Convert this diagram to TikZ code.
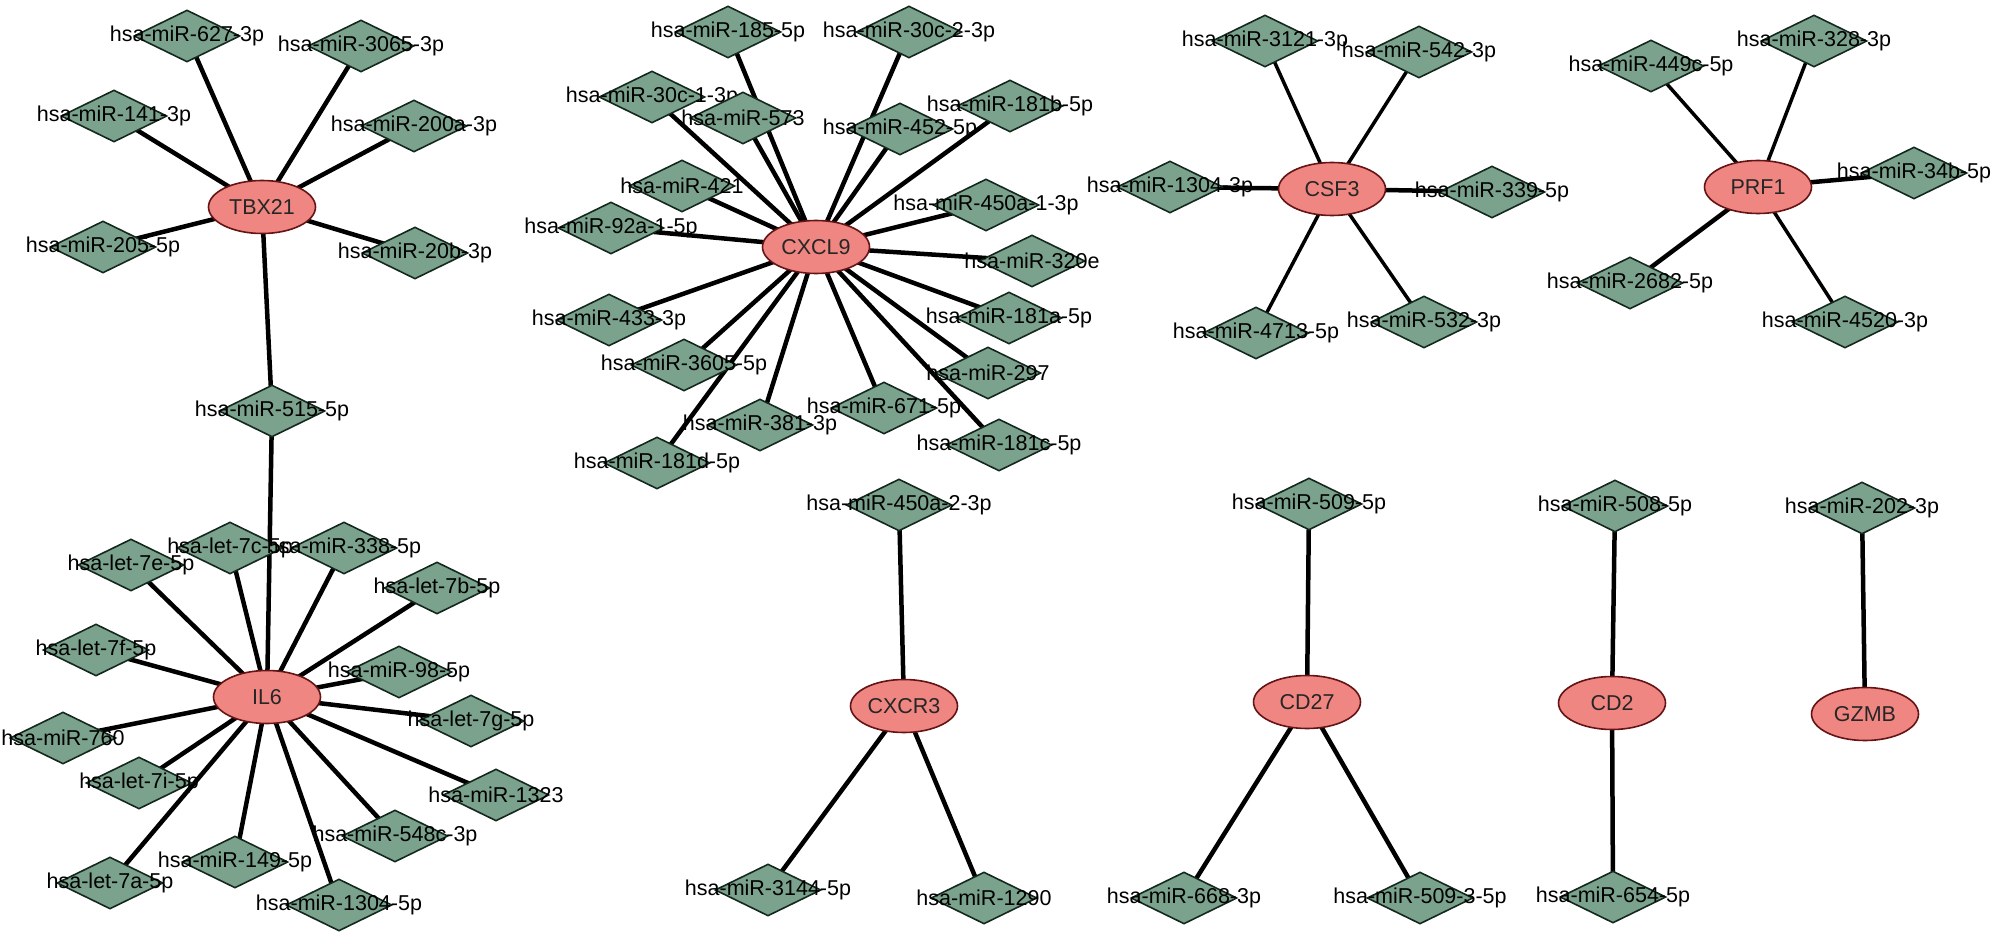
\documentclass[tikz,border=0pt]{standalone}
\usepackage{fontspec}
\setmainfont{Liberation Sans}
\usetikzlibrary{shapes.geometric,backgrounds}
\definecolor{genefill}{RGB}{240,134,130}
\definecolor{genedraw}{RGB}{100,20,20}
\definecolor{mirfill}{RGB}{122,162,140}
\definecolor{mirdraw}{RGB}{20,40,30}
\tikzset{
  gene/.style={ellipse, draw=genedraw, fill=genefill, line width=1.6pt,
    minimum width=107pt, minimum height=53pt, inner sep=0pt,
    font=\fontsize{21.5}{24}\selectfont, text=black!85},
  mir/.style={diamond, draw=mirdraw, fill=mirfill, line width=1.6pt,
    minimum width=106pt, minimum height=52pt, inner sep=0pt},
  lab/.style={font=\fontsize{21.5}{24}\selectfont, text=black, inner sep=0pt},
  edge/.style={line width=4.5pt, black},
  thin/.style={line width=3.5pt, black},
}
\newcommand{\mirnode}[3]{\node[mir, label={[lab]center:#3}] (#1) at #2 {};}
\begin{document}
\begin{tikzpicture}[x=1pt,y=-1pt]
\useasboundingbox (0,0) rectangle (2000,936);
% genes
\node[gene] (TBX21) at (262,207) {TBX21};
\node[gene] (IL6) at (267,697) {IL6};
\node[gene] (CXCL9) at (816,247) {CXCL9};
\node[gene] (CSF3) at (1332,189) {CSF3};
\node[gene] (PRF1) at (1758,187) {PRF1};
\node[gene] (CXCR3) at (904,706) {CXCR3};
\node[gene] (CD27) at (1307,702) {CD27};
\node[gene] (CD2) at (1612,703) {CD2};
\node[gene] (GZMB) at (1865,714) {GZMB};
% TBX21 cluster
\mirnode{m627}{(187,36)}{hsa-miR-627-3p}
\mirnode{m3065}{(361,46)}{hsa-miR-3065-3p}
\mirnode{m141}{(114,116)}{hsa-miR-141-3p}
\mirnode{m200a}{(414,126)}{hsa-miR-200a-3p}
\mirnode{m205}{(103,247)}{hsa-miR-205-5p}
\mirnode{m20b}{(415,253)}{hsa-miR-20b-3p}
\mirnode{m515}{(272,411)}{hsa-miR-515-5p}
% IL6 cluster
\mirnode{l7c}{(230,548)}{hsa-let-7c-5p}
\mirnode{m338}{(344,548)}{hsa-miR-338-5p}
\mirnode{l7e}{(131,565)}{hsa-let-7e-5p}
\mirnode{l7b}{(437,588)}{hsa-let-7b-5p}
\mirnode{l7f}{(96,650)}{hsa-let-7f-5p}
\mirnode{m98}{(399,672)}{hsa-miR-98-5p}
\mirnode{l7g}{(471,721)}{hsa-let-7g-5p}
\mirnode{m760}{(63,738)}{hsa-miR-760}
\mirnode{l7i}{(139,783)}{hsa-let-7i-5p}
\mirnode{m1323}{(496,795)}{hsa-miR-1323}
\mirnode{m548}{(395,836)}{hsa-miR-548c-3p}
\mirnode{m149}{(235,862)}{hsa-miR-149-5p}
\mirnode{l7a}{(110,883)}{hsa-let-7a-5p}
\mirnode{m1304f}{(339,905)}{hsa-miR-1304-5p}
% CXCL9 cluster
\mirnode{m185}{(728,32)}{hsa-miR-185-5p}
\mirnode{m30cb}{(909,32)}{hsa-miR-30c-2-3p}
\mirnode{m30ca}{(652,97)}{hsa-miR-30c-1-3p}
\mirnode{m573}{(743,118)}{hsa-miR-573}
\mirnode{m181b}{(1010,106)}{hsa-miR-181b-5p}
\mirnode{m452}{(900,129)}{hsa-miR-452-5p}
\mirnode{m421}{(682,186)}{hsa-miR-421}
\mirnode{m450a}{(986,205)}{hsa-miR-450a-1-3p}
\mirnode{m92a}{(611,228)}{hsa-miR-92a-1-5p}
\mirnode{m320e}{(1032,261)}{hsa-miR-320e}
\mirnode{m433}{(609,320)}{hsa-miR-433-3p}
\mirnode{m181a}{(1009,318)}{hsa-miR-181a-5p}
\mirnode{m3605}{(684,365)}{hsa-miR-3605-5p}
\mirnode{m297}{(988,373)}{hsa-miR-297}
\mirnode{m671}{(884,408)}{hsa-miR-671-5p}
\mirnode{m381}{(760,425)}{hsa-miR-381-3p}
\mirnode{m181c}{(999,445)}{hsa-miR-181c-5p}
\mirnode{m181d}{(657,463)}{hsa-miR-181d-5p}
% CSF3 cluster
\mirnode{m3121}{(1265,41)}{hsa-miR-3121-3p}
\mirnode{m542}{(1419,52)}{hsa-miR-542-3p}
\mirnode{m1304t}{(1170,187)}{hsa-miR-1304-3p}
\mirnode{m339}{(1492,192)}{hsa-miR-339-5p}
\mirnode{m4713}{(1256,333)}{hsa-miR-4713-5p}
\mirnode{m532}{(1424,322)}{hsa-miR-532-3p}
% PRF1 cluster
\mirnode{m449c}{(1651,66)}{hsa-miR-449c-5p}
\mirnode{m328}{(1814,41)}{hsa-miR-328-3p}
\mirnode{m34b}{(1914,173)}{hsa-miR-34b-5p}
\mirnode{m2682}{(1630,283)}{hsa-miR-2682-5p}
\mirnode{m4520}{(1845,322)}{hsa-miR-4520-3p}
% small clusters
\mirnode{m450b}{(899,505)}{hsa-miR-450a-2-3p}
\mirnode{m3144}{(768,890)}{hsa-miR-3144-5p}
\mirnode{m1290}{(984,898)}{hsa-miR-1290}
\mirnode{m509}{(1309,504)}{hsa-miR-509-5p}
\mirnode{m668}{(1184,898)}{hsa-miR-668-3p}
\mirnode{m5093}{(1420,898)}{hsa-miR-509-3-5p}
\mirnode{m508}{(1615,506)}{hsa-miR-508-5p}
\mirnode{m654}{(1613,897)}{hsa-miR-654-5p}
\mirnode{m202}{(1862,508)}{hsa-miR-202-3p}
\begin{pgfonlayer}{background}
\foreach \m in {m627,m3065,m141,m200a,m205,m20b,m515}
  \draw[edge] (TBX21.center) -- (\m.center);
\foreach \m in {m515,l7c,m338,l7e,l7b,l7f,m98,l7g,m760,l7i,m1323,m548,m149,l7a,m1304f}
  \draw[edge] (IL6.center) -- (\m.center);
\foreach \m in {m185,m30cb,m30ca,m573,m181b,m452,m421,m450a,m92a,m320e,m433,m181a,m3605,m297,m671,m381,m181c,m181d}
  \draw[edge] (CXCL9.center) -- (\m.center);
\foreach \m in {m3121,m542,m4713,m532}
  \draw[thin] (CSF3.center) -- (\m.center);
\foreach \m in {m1304t,m339}
  \draw[edge] (CSF3.center) -- (\m.center);
\foreach \m in {m449c,m328,m4520}
  \draw[thin] (PRF1.center) -- (\m.center);
\foreach \m in {m34b,m2682}
  \draw[edge] (PRF1.center) -- (\m.center);
\foreach \m in {m450b,m3144,m1290}
  \draw[edge] (CXCR3.center) -- (\m.center);
\foreach \m in {m509,m668,m5093}
  \draw[edge] (CD27.center) -- (\m.center);
\foreach \m in {m508,m654}
  \draw[edge] (CD2.center) -- (\m.center);
\draw[edge] (GZMB.center) -- (m202.center);
\end{pgfonlayer}
\end{tikzpicture}
\end{document}
